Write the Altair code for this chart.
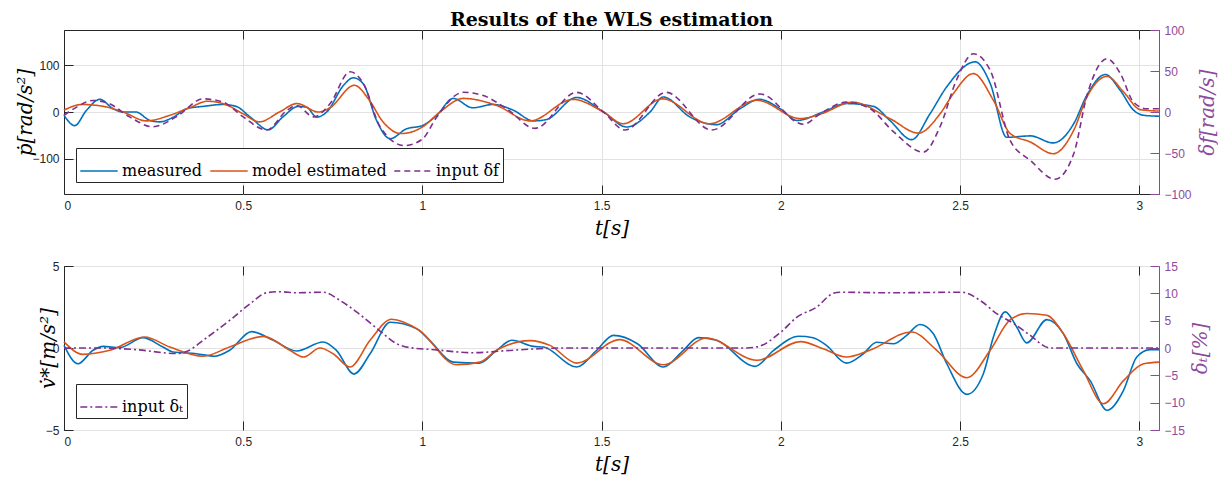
import altair as alt
import pandas as pd

# ---------------- data ----------------
# top panel, left axis: p-dot [rad/s^2]
t_meas_top = [0.0, 0.03, 0.062, 0.1, 0.137, 0.165, 0.2, 0.24, 0.267, 0.305, 0.342, 0.388, 0.444, 0.48,
              0.52, 0.57, 0.61, 0.654, 0.677, 0.705, 0.733, 0.78, 0.807, 0.835, 0.872, 0.91, 0.955, 1.0,
              1.04, 1.086, 1.14, 1.197, 1.253, 1.31, 1.346, 1.43, 1.505, 1.57, 1.635, 1.672, 1.747, 1.82,
              1.886, 1.94, 1.998, 2.045, 2.118, 2.183, 2.258, 2.304, 2.365, 2.416, 2.463, 2.542, 2.584,
              2.63, 2.696, 2.76, 2.817, 2.854, 2.905, 2.947, 2.984, 3.012, 3.055]
v_meas_top = [-7, -29, 3, 27, 7, 0, 0, -18, -21, -11, 7, 12, 16, 12,
              -11, -38, -11, 12, 10, -11, 0, 57, 73, 60, -18, -57, -36, -29,
              -7, 29, 9, 16, 4, -19, -16, 31, 0, -32, 0, 32, -11, -27,
              7, 27, 7, -18, 0, 18, 12, -18, -59, -4, 54, 107, 61,
              -54, -51, -66, -25, 36, 80, 46, 4, -7, -9]

t_est_top = [0.0, 0.05, 0.11, 0.165, 0.23, 0.295, 0.35, 0.4, 0.454, 0.5, 0.545, 0.601, 0.65, 0.71, 0.742,
             0.81, 0.852, 0.89, 0.94, 1.0, 1.049, 1.114, 1.207, 1.3, 1.42, 1.505, 1.56, 1.67, 1.8, 1.933,
             2.054, 2.112, 2.2, 2.304, 2.384, 2.444, 2.481, 2.537, 2.593, 2.64, 2.696, 2.76, 2.817,
             2.854, 2.91, 2.956, 3.003, 3.055]
v_est_top = [4, 16, 12, 0, -19, -7, 9, 23, 15, -4, -21, 0, 18, 0, 9,
             57, 25, -21, -46, -32, 0, 29, 14, -19, 27, 0, -25, 28, -25, 25,
             -14, -4, 21, -14, -45, -4, 39, 82, 25, -46, -64, -89, -39,
             32, 76, 43, 5, 2]

# top panel, right axis: input delta_f [rad/s]
t_df = [0.0, 0.035, 0.08, 0.127, 0.183, 0.248, 0.313, 0.388, 0.444, 0.5, 0.565, 0.622, 0.649, 0.696,
        0.742, 0.798, 0.835, 0.882, 0.95, 1.0, 1.04, 1.114, 1.17, 1.235, 1.314, 1.43, 1.505, 1.565,
        1.68, 1.807, 1.942, 2.063, 2.11, 2.183, 2.249, 2.314, 2.398, 2.444, 2.49, 2.537, 2.584, 2.64,
        2.696, 2.765, 2.817, 2.854, 2.91, 2.947, 2.984, 3.021, 3.055]
v_df = [-4, 6, 14, 10, -6, -18, -6, 16, 12, -6, -22, 2, 8, -6,
        10, 49, 35, -18, -41, -33, -6, 24, 20, 4, -20, 24, 0, -22,
        24, -22, 22, -15, -2, 12, 4, -24, -49, -18, 39, 71, 51, -35,
        -59, -82, -51, 20, 65, 47, 12, 4, 4]

# bottom panel, left axis: v-dot* [m/s^2]
t_meas_bot = [0.0, 0.039, 0.081, 0.109, 0.156, 0.22, 0.276, 0.304, 0.37, 0.42, 0.462, 0.523, 0.584, 0.649,
              0.723, 0.76, 0.809, 0.854, 0.91, 0.983, 1.02, 1.086, 1.16, 1.207, 1.25, 1.31, 1.338, 1.43,
              1.486, 1.533, 1.6, 1.672, 1.728, 1.77, 1.821, 1.928, 1.98, 2.05, 2.09, 2.127, 2.183, 2.23,
              2.267, 2.314, 2.351, 2.388, 2.425, 2.463, 2.519, 2.565, 2.593, 2.626, 2.658, 2.686, 2.742,
              2.788, 2.826, 2.863, 2.91, 2.956, 2.993, 3.03, 3.055]
v_meas_bot = [0.16, -0.96, -0.14, 0.1, 0.02, 0.63, 0.06, -0.24, -0.35, -0.5, -0.14, 1.0, 0.47, -0.18,
              0.37, -0.14, -1.59, -0.35, 1.57, 1.18, 0.47, -0.86, -0.92, -0.14, 0.47, 0.1, 0.06, -1.16,
              -0.14, 0.77, 0.26, -1.16, -0.14, 0.63, 0.47, -1.12, -0.14, 0.72, 0.63, 0.16, -0.92, -0.35,
              0.35, 0.26, 0.77, 1.43, 0.88, -0.96, -2.83, -1.57, 0.67, 2.2, 1.28, 0.31, 1.73,
              0.88, -0.96, -1.99, -3.8, -2.58, -0.55, -0.1, -0.1]

t_est_bot = [0.0, 0.053, 0.128, 0.225, 0.295, 0.388, 0.462, 0.556, 0.63, 0.668, 0.714, 0.751, 0.798, 0.854,
             0.914, 0.99, 1.095, 1.16, 1.207, 1.3, 1.356, 1.43, 1.55, 1.672, 1.793, 1.933, 2.055, 2.118,
             2.183, 2.248, 2.365, 2.435, 2.519, 2.584, 2.64, 2.686, 2.742, 2.788, 2.844, 2.9, 2.956,
             3.012, 3.055]
v_est_bot = [0.37, -0.39, -0.14, 0.67, 0.06, -0.5, 0.06, 0.71, -0.14, -0.55, 0.0, -0.35, -1.16, 0.47,
             1.75, 1.1, -1.02, -0.86, -0.14, 0.45, 0.16, -0.92, 0.51, -1.02, 0.61, -0.75, 0.39, -0.04,
             -0.55, -0.14, 0.98, -0.14, -1.81, -0.14, 1.73, 2.1, 2.0, 0.88, -1.38, -3.4, -1.99,
             -0.96, -0.86]

# bottom panel, right axis: input delta_t [%]
t_dt = [0.0, 0.1, 0.2, 0.314, 0.35, 0.388, 0.463, 0.519, 0.565, 0.602, 0.65, 0.723, 0.77, 0.816, 0.88,
        0.928, 0.984, 1.02, 1.14, 1.253, 1.39, 1.896, 1.933, 2.0, 2.044, 2.1, 2.146, 2.165, 2.3, 2.505,
        2.556, 2.602, 2.649, 2.696, 2.751, 2.85, 3.055]
v_dt = [0.0, 0.0, -0.3, -1.0, -0.4, 1.4, 5.1, 8.1, 10.1, 10.3, 10.1, 10.2, 8.7, 6.6, 3.2,
        0.8, -0.1, -0.25, -0.86, -0.4, 0.0, 0.0, 0.2, 2.9, 5.6, 7.5, 10.0, 10.2, 10.1, 10.2,
        8.7, 6.3, 4.5, 2.3, 0.0, 0.0, 0.0]

x_ticks = [0, 0.5, 1, 1.5, 2, 2.5, 3]
top_left_ticks = [-100, 0, 100]
top_right_ticks = [-100, -50, 0, 50, 100]
bot_left_ticks = [-5, 0, 5]
bot_right_ticks = [-15, -10, -5, 0, 5, 10, 15]

names_top = ["measured", "model estimated", "input δf"]
name_dt = "input δₜ"

# ---------------- styling ----------------
BLUE, ORANGE, PURPLE = "#0072BD", "#D95319", "#7E2F8E"
AXPURPLE = "#8E4A9A"
DARK = "#262626"
GRID = "#e2e2e2"
W, H = 1095, 164
X_DOM = [0, 3.055]
SERIF = "DejaVu Serif"
SANS = "Liberation Sans"
LW = 1.6


def frame(ts, vs, name):
    return pd.DataFrame({"t": ts, "v": vs, "series": name})


top_left = pd.concat([frame(t_meas_top, v_meas_top, names_top[0]),
                      frame(t_est_top, v_est_top, names_top[1])])
top_right = frame(t_df, v_df, names_top[2])
bot_meas = frame(t_meas_bot, v_meas_bot, "measured")
bot_est = frame(t_est_bot, v_est_bot, "model estimated")
bot_right = frame(t_dt, v_dt, name_dt)

xs = alt.Scale(domain=X_DOM, nice=False, zero=False)


def x_main(title):
    return alt.X("t:Q", scale=xs, axis=alt.Axis(
        title=title, values=x_ticks, format="~g", grid=True, gridColor=GRID, tickSize=0,
        domain=False, labelPadding=6, titlePadding=7))


def x_in(orient):
    return alt.X("t:Q", scale=xs, axis=alt.Axis(
        orient=orient, values=x_ticks, labels=False, grid=False, domain=False, title=None,
        tickSize=9, offset=-9, tickColor=DARK))


x_none = alt.X("t:Q", scale=xs, axis=None)


def y_left(dom, ticks, title, tpad):
    return alt.Y("v:Q", scale=alt.Scale(domain=dom, nice=False, zero=False), axis=alt.Axis(
        title=title, values=ticks, grid=True, gridColor=GRID, tickSize=0, domain=True,
        domainColor=DARK, labelPadding=5, titlePadding=tpad))


def y_left_in(dom, ticks):
    return alt.Y("v:Q", scale=alt.Scale(domain=dom, nice=False, zero=False), axis=alt.Axis(
        values=ticks, labels=False, grid=False, domain=False, title=None, tickSize=9, offset=-9,
        tickColor=DARK))


def y_none(dom):
    return alt.Y("v:Q", scale=alt.Scale(domain=dom, nice=False, zero=False), axis=None)


def y_right(dom, ticks, title):
    return alt.Y("v:Q", scale=alt.Scale(domain=dom, nice=False, zero=False), axis=alt.Axis(
        orient="right", title=title, values=ticks, grid=False, tickSize=0, domain=True,
        domainColor=AXPURPLE, labelColor=AXPURPLE, titleColor=AXPURPLE, titleAngle=270,
        titleBaseline="top", labelPadding=5, titlePadding=6))


def y_right_in(dom, ticks):
    return alt.Y("v:Q", scale=alt.Scale(domain=dom, nice=False, zero=False), axis=alt.Axis(
        orient="right", values=ticks, labels=False, grid=False, domain=False, title=None,
        tickSize=9, offset=-9, tickColor=AXPURPLE))


def ghost(data, x, y):
    return alt.Chart(data).mark_line(strokeOpacity=0).encode(x=x, y=y, detail="series:N")


legend_common = dict(title=None, orient="bottom-left", direction="horizontal", offset=12,
                     strokeColor=DARK, fillColor="white", padding=3, symbolType="stroke",
                     symbolSize=1400, symbolStrokeWidth=LW, labelFont=SERIF, labelFontSize=16,
                     labelColor="black", columnPadding=4, labelOffset=3, labelLimit=400)

TL, TR = [-175, 175], [-100, 100]
BL, BR = [-5, 5], [-15, 15]

# ---------------- top panel ----------------
col_top = alt.Scale(domain=names_top, range=[BLUE, ORANGE, PURPLE])
dash_top = alt.Scale(domain=names_top, range=[[1, 0], [1, 0], [6, 4]])

top_lines = alt.Chart(top_left).mark_line(interpolate="monotone", strokeWidth=LW).encode(
    x=x_main("t[s]"),
    y=y_left(TL, top_left_ticks, "ṗ[rad/s²]", -4),
    color=alt.Color("series:N", scale=col_top, sort=names_top, legend=alt.Legend(**legend_common)),
    strokeDash=alt.StrokeDash("series:N", scale=dash_top, sort=names_top,
                              legend=alt.Legend(**legend_common)),
)
top_purple = alt.Chart(top_right).mark_line(interpolate="monotone", strokeWidth=LW).encode(
    x=x_none,
    y=y_right(TR, top_right_ticks, "δf[rad/s]"),
    color=alt.Color("series:N", scale=col_top, sort=names_top, legend=alt.Legend(**legend_common)),
    strokeDash=alt.StrokeDash("series:N", scale=dash_top, sort=names_top,
                              legend=alt.Legend(**legend_common)),
)
top = alt.layer(
    ghost(top_left, x_in("bottom"), y_left_in(TL, top_left_ticks)),
    ghost(top_left, x_in("top"), y_none(TL)),
    ghost(top_right, x_none, y_right_in(TR, top_right_ticks)),
    top_lines,
    top_purple,
).resolve_scale(y="independent").resolve_axis(x="independent", y="independent").properties(
    width=W, height=H,
    title=alt.TitleParams("Results of the WLS estimation", font=SERIF, fontSize=19,
                          fontWeight="bold", anchor="middle", frame="group", offset=-6,
                          color="black"))

# ---------------- bottom panel ----------------
col_bot = alt.Scale(domain=[name_dt], range=[PURPLE])
dash_bot = alt.Scale(domain=[name_dt], range=[[7, 3, 2, 3]])

bot_blue = alt.Chart(bot_meas).mark_line(interpolate="monotone", strokeWidth=LW, color=BLUE).encode(
    x=x_main("t[s]"),
    y=y_left(BL, bot_left_ticks, "v̇*[m/s²]", -13),
)
bot_orange = alt.Chart(bot_est).mark_line(interpolate="monotone", strokeWidth=LW, color=ORANGE).encode(
    x=x_none, y=y_none(BL),
)
bot_purple = alt.Chart(bot_right).mark_line(interpolate="monotone", strokeWidth=LW).encode(
    x=x_none,
    y=y_right(BR, bot_right_ticks, "δₜ[%]"),
    color=alt.Color("series:N", scale=col_bot, legend=alt.Legend(**legend_common)),
    strokeDash=alt.StrokeDash("series:N", scale=dash_bot, legend=alt.Legend(**legend_common)),
)
bottom = alt.layer(
    ghost(bot_meas, x_in("bottom"), y_left_in(BL, bot_left_ticks)),
    ghost(bot_meas, x_in("top"), y_none(BL)),
    ghost(bot_right, x_none, y_right_in(BR, bot_right_ticks)),
    bot_blue,
    bot_orange,
    bot_purple,
).resolve_scale(y="independent").resolve_axis(x="independent", y="independent").properties(
    width=W, height=H)

chart = alt.vconcat(top, bottom, spacing=20).resolve_scale(
    x="independent", y="independent", color="independent", strokeDash="independent"
).configure_view(stroke=DARK, strokeWidth=1).configure_axis(
    labelFont=SANS, labelFontSize=12, labelColor=DARK, titleFont=SERIF, titleFontStyle="italic",
    titleFontWeight="normal", titleFontSize=20, titleColor="black"
).properties(background="white", padding={"left": 7, "top": 2, "right": 0, "bottom": 0})

chart.save("out.html", embed_options={"renderer": "svg", "actions": False})
